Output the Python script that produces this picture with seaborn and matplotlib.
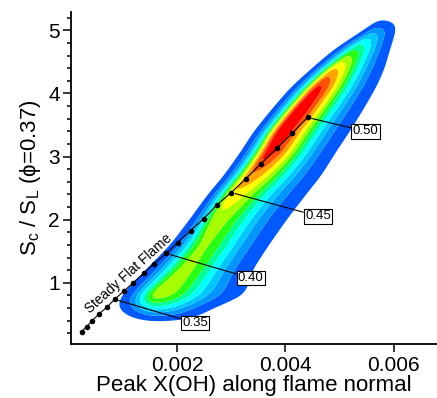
import matplotlib
matplotlib.use("Agg")
import numpy as np
import pandas as pd
import matplotlib.pyplot as plt
from matplotlib.ticker import MultipleLocator
import seaborn as sns

# steady flat flame trajectory (one dot per equivalence ratio step)
flame_x = [0.000235, 0.000327, 0.000432, 0.000556, 0.000698, 0.000846, 0.00101,
           0.00119, 0.00138, 0.00157, 0.00180, 0.00201, 0.00225, 0.00249,
           0.00273, 0.00300, 0.00327, 0.00354, 0.00384, 0.00413, 0.00441]
flame_y = [0.226, 0.305, 0.400, 0.505, 0.610, 0.737, 0.864, 1.000, 1.148, 1.300,
           1.464, 1.638, 1.828, 2.017, 2.230, 2.430, 2.650, 2.880, 3.130, 3.376,
           3.620]

# phi tags on the flame curve
phi_text = ["0.35", "0.40", "0.45", "0.50"]
phi_dot = [5, 10, 15, 20]
phi_box_x = [0.00233, 0.00336, 0.00460, 0.00548]
phi_box_y = [0.362, 1.074, 2.055, 3.400]

# joint PDF:
# ridge position, peak height (1 = max) and half-widths left / right of the ridge
pdf_row_y = [0.44, 0.57, 0.78, 1.00, 1.20, 1.60, 2.00, 2.40, 2.70, 3.05, 3.40,
             3.75, 4.10, 4.40, 4.70, 5.00, 5.15]
pdf_ridge_x = [0.00165, 0.00160, 0.00160, 0.00188, 0.00212, 0.00248, 0.00272,
               0.00302, 0.00335, 0.00368, 0.00392, 0.00425, 0.00460, 0.00492,
               0.00530, 0.00568, 0.00582]
pdf_peak = [0.00, 0.30, 0.65, 0.62, 0.60, 0.58, 0.62, 0.72, 0.82, 0.96, 1.00,
            1.00, 0.95, 0.75, 0.47, 0.16, 0.00]
pdf_left_w = [0.00031, 0.00031, 0.00026, 0.00028, 0.00029, 0.00025, 0.00020,
              0.00018, 0.00019, 0.00020, 0.00019, 0.00019, 0.00019, 0.00017,
              0.00017, 0.00013, 0.00012]
pdf_right_w = [0.00043, 0.00045, 0.00065, 0.00059, 0.00052, 0.00050, 0.00053,
               0.00054, 0.00051, 0.00047, 0.00048, 0.00045, 0.00041, 0.00036,
               0.00027, 0.00019, 0.00018]

pdf_levels = [0.03, 0.12, 0.21, 0.30, 0.39, 0.48, 0.57, 0.66, 0.75, 0.84, 0.92, 1.01]
pdf_colors = ["#005aff", "#0096ff", "#00c8ff", "#00ffff", "#00ff9a", "#28ff14",
              "#a5ff00", "#ffff00", "#ffa500", "#ff5000", "#ff0000"]


def smooth_rows(v, n=41):
    k = np.hanning(n)
    k /= k.sum()
    return np.convolve(np.pad(v, n // 2, mode="edge"), k, mode="valid")


sns.set_style("ticks")
plt.rcParams["font.family"] = ["Liberation Sans", "DejaVu Sans"]
plt.rcParams.update({"axes.edgecolor": "black", "text.color": "black",
                     "axes.labelcolor": "black", "xtick.color": "black",
                     "ytick.color": "black"})

fig = plt.figure(figsize=(4.37, 3.98), dpi=100)
ax = fig.add_axes([0.1625, 0.1357, 0.8375, 0.834])

# rebuild the PDF surface from the row table
gx = np.linspace(0.0, 0.0068, 500)
gy = np.linspace(0.0, 5.3, 500)
xx, yy = np.meshgrid(gx, gy)
ridge = smooth_rows(np.interp(gy, pdf_row_y, pdf_ridge_x))[:, None]
peak = smooth_rows(np.interp(gy, pdf_row_y, pdf_peak))[:, None]
wl = smooth_rows(np.interp(gy, pdf_row_y, pdf_left_w))[:, None]
wr = smooth_rows(np.interp(gy, pdf_row_y, pdf_right_w))[:, None]
d = xx - ridge
pdf = peak * np.exp(-0.5 * (d / np.where(d < 0, wl, wr)) ** 2)
ax.contourf(gx, gy, pdf, levels=pdf_levels, colors=pdf_colors, antialiased=True)

flame = pd.DataFrame({"xoh": flame_x, "sc": flame_y})
sns.lineplot(data=flame, x="xoh", y="sc", color="black", lw=0.8, marker="o",
             markersize=4.0, markeredgewidth=0, sort=False, ax=ax)

for txt, i, bx, by in zip(phi_text, phi_dot, phi_box_x, phi_box_y):
    ax.annotate(txt, xy=(flame_x[i], flame_y[i]), xytext=(bx, by),
                ha="center", va="center", fontsize=9.5,
                bbox=dict(boxstyle="square,pad=0.1", fc="white", ec="black", lw=0.8),
                arrowprops=dict(arrowstyle="-", color="black", lw=0.8,
                                shrinkA=0, shrinkB=3))

ax.text(0.00111, 1.14, "Steady Flat Flame", rotation=42, rotation_mode="anchor",
        ha="center", va="center", fontsize=9.8)

ax.set_xlim(0.00004, 0.0068)
ax.set_ylim(0.03, 5.29)
ax.set_xticks([0.002, 0.004, 0.006])
ax.set_xticklabels(["0.002", "0.004", "0.006"])
ax.yaxis.set_major_locator(MultipleLocator(1))
ax.yaxis.set_minor_locator(MultipleLocator(0.2))
ax.tick_params(axis="both", which="major", direction="out", length=5.5, width=1.1,
               labelsize=15)
ax.tick_params(axis="x", which="major", pad=3)
ax.tick_params(axis="y", which="major", pad=2.5)
ax.tick_params(axis="y", which="minor", direction="out", length=3.1, width=1.1)
for side in ["top", "right"]:
    ax.spines[side].set_visible(False)
for side in ["left", "bottom"]:
    ax.spines[side].set_linewidth(1.3)

ax.set_xlabel("Peak X(OH) along flame normal", fontsize=16, labelpad=0)
ax.set_ylabel("S$_\\mathregular{c}$ / S$_\\mathregular{L}$ (\u03d5=0.37)",
              fontsize=16, labelpad=4)

fig.savefig("out.png", dpi=100)
